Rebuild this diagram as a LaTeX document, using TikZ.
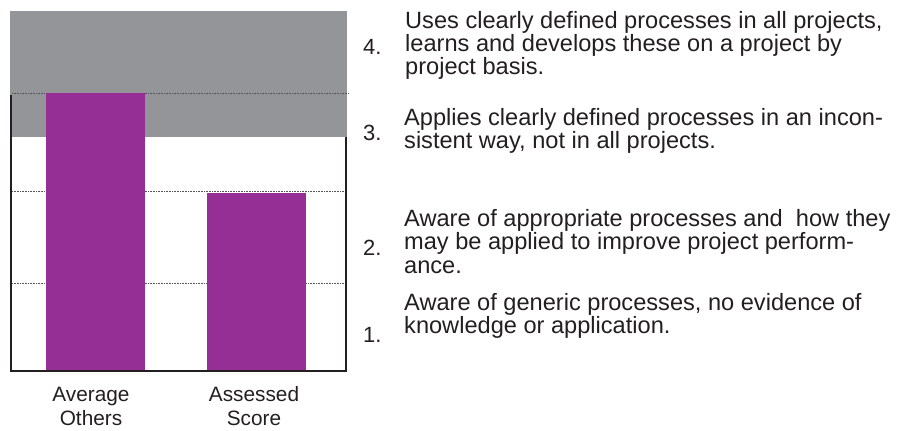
\documentclass[tikz,border=0pt]{standalone}
\usepackage{fontspec}
\setmainfont{Liberation Sans}
\newfontfamily\plainsans{Liberation Sans}
\definecolor{bandgray}{HTML}{939598}
\definecolor{barpurple}{HTML}{952F95}
\definecolor{inkdark}{HTML}{231F20}
\definecolor{gridgray}{HTML}{555555}
\begin{document}
\begin{tikzpicture}[x=1pt,y=-1pt,
  desc/.style={anchor=base west,inner sep=0pt,text=inkdark,font=\plainsans\fontsize{23.6}{23}\selectfont},
  num/.style={anchor=base west,inner sep=0pt,text=inkdark,font=\plainsans\fontsize{22}{23}\selectfont},
  lab/.style={anchor=base,inner sep=0pt,text=inkdark,font=\plainsans\fontsize{20.8}{23}\selectfont},
  barbox/.style={fill=barpurple,draw=none},
  gridline/.style={draw=gridgray,line width=0.9pt,dash pattern=on 1pt off 0.6pt},
  frameline/.style={draw=inkdark,line width=2pt}]
\useasboundingbox (0,0) rectangle (916,431);
% grey band
\fill[bandgray] (10,11) rectangle (347,137);
% grid lines
\draw[gridline] (12,93) -- (349,93);
\draw[gridline] (12,191.7) -- (344,191.7);
\draw[gridline] (12,283) -- (344,283);
% bars
\path[barbox] (46,93) rectangle (145,371);
\path[barbox] (207,193) rectangle (306,371);
% frame
\draw[frameline] (10.5,95) -- (10.5,371) -- (345.5,371) -- (345.5,137);
% axis labels
\node[lab] (l1a) at (91,401.7) {Average};
\node[lab] (l1b) at (91,425) {Others};
\node[lab] (l2a) at (254,401.7) {Assessed};
\node[lab] (l2b) at (254,425) {Score};
% level 4
\node[num] (n4) at (363,54) {4.};
\node[desc] (t4a) at (405,28) {Uses clearly defined processes in all projects,};
\node[desc] (t4b) at (405,51) {learns and develops these on a project by};
\node[desc] (t4c) at (405,74) {project basis.};
% level 3
\node[num] (n3) at (363,140) {3.};
\node[desc] (t3a) at (404,125) {Applies clearly defined processes in an incon-};
\node[desc] (t3b) at (404,148) {sistent way, not in all projects.};
% level 2
\node[num] (n2) at (363,255) {2.};
\node[desc] (t2a) at (404,226) {Aware of appropriate processes and\ \ how they};
\node[desc] (t2b) at (404,249) {may be applied to improve project perform-};
\node[desc] (t2c) at (404,273) {ance.};
% level 1
\node[num] (n1) at (363,342) {1.};
\node[desc] (t1a) at (404,310) {Aware of generic processes, no evidence of};
\node[desc] (t1b) at (404,333) {knowledge or application.};
\end{tikzpicture}
\end{document}
